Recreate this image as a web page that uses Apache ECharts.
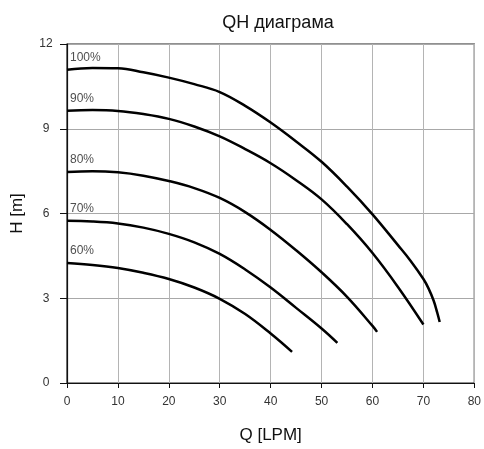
<!DOCTYPE html>
<html><head><meta charset="utf-8">
<script src="https://cdn.jsdelivr.net/npm/echarts@6/dist/echarts.min.js"></script>
<style>html,body{margin:0;padding:0;background:#fff}#c{width:484px;height:449px}</style>
</head><body><div id="c"></div>
<script>
var titleText = 'QH диаграма';
var xName = 'Q [LPM]';
var yName = 'H [m]';
var curveNames = ['100%', '90%', '80%', '70%', '60%'];
var q100 = [0,5,10,15,20,25,30,35,40,45,50,55,60,65,67.5,70,71,72,72.7,73.2];
var h100 = [11.09,11.15,11.14,11.0,10.81,10.58,10.3,9.81,9.22,8.55,7.83,6.95,5.97,4.88,4.32,3.68,3.35,2.92,2.5,2.16];
var q90 = [0,5,10,15,20,25,30,35,40,45,50,55,60,65,70];
var h90 = [9.64,9.66,9.63,9.52,9.35,9.08,8.73,8.28,7.78,7.18,6.5,5.62,4.6,3.4,2.07];
var q80 = [0,5,10,15,20,25,30,35,40,45,50,55,60,60.9];
var h80 = [7.47,7.5,7.46,7.34,7.15,6.9,6.55,6.05,5.42,4.7,3.92,3.05,2.02,1.81];
var q70 = [0,5,10,15,20,25,30,35,40,45,50,53.1];
var h70 = [5.74,5.72,5.65,5.5,5.28,4.98,4.57,4.02,3.38,2.66,1.93,1.42];
var q60 = [0,5,10,15,20,25,30,35,40,44.2];
var h60 = [4.25,4.18,4.07,3.9,3.68,3.38,2.98,2.44,1.75,1.1];

var qs = [q100,q90,q80,q70,q60];
var hs = [h100,h90,h80,h70,h60];
var FONT = 'Liberation Sans, Arial, sans-serif';

function pairs(q,h){ return q.map(function(v,i){return [v,h[i]];}); }

var series = [];
for (var i=0;i<qs.length;i++){
  series.push({
    type:'line', smooth:0.4, showSymbol:false, symbol:'none',
    lineStyle:{color:'#000', width:2.5},
    data: pairs(qs[i], hs[i]), silent:true, z:3
  });
}
series.push({
  type:'scatter', symbolSize:0, silent:true, z:4,
  data: qs.map(function(q,i){ return {value:[q[0], hs[i][0]], name:curveNames[i]}; }),
  label:{show:true, formatter:'{b}', position:[3,-18], align:'left', verticalAlign:'top',
    fontFamily:FONT, fontSize:12, color:'#222'}
});

var chart = echarts.init(document.getElementById('c'), null, {renderer:'canvas'});
chart.setOption({
  animation:false,
  backgroundColor:'#fff',
  title:{text:titleText, left:273, top:9, textAlign:'center',
    textStyle:{fontFamily:FONT, fontSize:18, fontWeight:'normal', color:'#111'}},
  grid:{left:67, right:7, top:44, bottom:64, show:true, borderColor:'#222', borderWidth:1.2},
  xAxis:{type:'value', min:0, max:80, interval:10,
    name:xName, nameLocation:'middle', nameGap:44,
    nameTextStyle:{fontFamily:FONT, fontSize:17, color:'#111'},
    axisLine:{show:true, lineStyle:{color:'#111', width:1.2}},
    axisTick:{show:true, length:5, lineStyle:{color:'#111'}},
    axisLabel:{fontFamily:FONT, fontSize:12, color:'#333', margin:13},
    splitLine:{show:true, lineStyle:{color:'#b4b4b4', width:1}}},
  yAxis:{type:'value', min:0, max:12, interval:3,
    name:yName, nameLocation:'middle', nameGap:41, nameRotate:90,
    nameTextStyle:{fontFamily:FONT, fontSize:17, color:'#111'},
    axisLine:{show:true, lineStyle:{color:'#111', width:1.2}},
    axisTick:{show:true, length:7, lineStyle:{color:'#111'}},
    axisLabel:{fontFamily:FONT, fontSize:12, color:'#333', margin:21, align:'center'},
    splitLine:{show:true, lineStyle:{color:'#a8a8a8', width:1}}},
  series:series
});
</script></body></html>
